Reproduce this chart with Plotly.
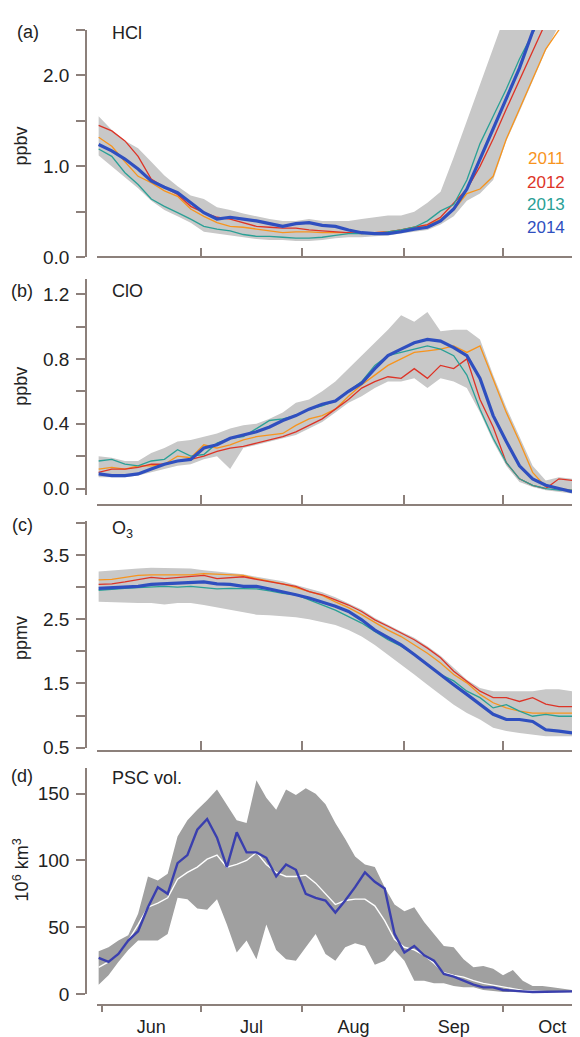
import pandas as pd
import plotly.graph_objects as go

# ---------------- data ----------------
# panels (a)-(c): every 4 days from 31 May
dates_abc = pd.date_range("2014-05-31", periods=37, freq="4D")
# panel (d): every 3 days from 31 May
dates_d = pd.date_range("2014-05-31", periods=49, freq="3D")

years = ["2011", "2012", "2013", "2014"]

# (a) HCl, ppbv
hcl_2011 = [1.32, 1.22, 1.05, 0.89, 0.82, 0.73, 0.67, 0.53, 0.45, 0.38, 0.34, 0.33, 0.31, 0.29, 0.27,
            0.28, 0.28, 0.27, 0.27, 0.27, 0.27, 0.27, 0.28, 0.30, 0.33, 0.35, 0.42, 0.52, 0.70, 0.75,
            0.89, 1.30, 1.63, 1.96, 2.29, 2.50, 2.80]
hcl_2012 = [1.45, 1.39, 1.28, 1.11, 0.86, 0.77, 0.69, 0.56, 0.49, 0.44, 0.42, 0.38, 0.34, 0.33, 0.32,
            0.32, 0.30, 0.29, 0.28, 0.27, 0.26, 0.27, 0.28, 0.30, 0.33, 0.36, 0.44, 0.60, 0.75, 1.00,
            1.30, 1.63, 1.96, 2.29, 2.60, 2.90, 3.20]
hcl_2013 = [1.19, 1.11, 0.93, 0.80, 0.64, 0.56, 0.49, 0.42, 0.34, 0.31, 0.29, 0.25, 0.23, 0.23, 0.22,
            0.21, 0.21, 0.22, 0.24, 0.26, 0.26, 0.26, 0.28, 0.30, 0.33, 0.40, 0.51, 0.58, 0.85, 1.25,
            1.55, 1.85, 2.18, 2.45, 2.75, 3.00, 3.30]
hcl_2014 = [1.24, 1.17, 1.08, 0.97, 0.84, 0.77, 0.71, 0.60, 0.49, 0.42, 0.44, 0.42, 0.40, 0.37, 0.34,
            0.37, 0.38, 0.35, 0.34, 0.30, 0.27, 0.26, 0.26, 0.28, 0.31, 0.33, 0.40, 0.53, 0.75, 1.08,
            1.41, 1.74, 2.08, 2.48, 2.85, 3.20, 3.50]
hcl_max = [1.55, 1.40, 1.28, 1.20, 1.05, 0.90, 0.78, 0.68, 0.64, 0.55, 0.52, 0.48, 0.45, 0.42, 0.40,
           0.40, 0.42, 0.40, 0.40, 0.40, 0.42, 0.44, 0.46, 0.46, 0.50, 0.60, 0.72, 1.10, 1.50, 1.92,
           2.32, 2.70, 3.00, 3.30, 3.60, 3.90, 4.20]
hcl_min = [1.12, 1.00, 0.88, 0.76, 0.62, 0.52, 0.45, 0.38, 0.28, 0.26, 0.24, 0.22, 0.20, 0.19, 0.19,
           0.18, 0.18, 0.19, 0.21, 0.22, 0.22, 0.23, 0.24, 0.26, 0.28, 0.30, 0.36, 0.45, 0.62, 0.70,
           0.85, 1.28, 1.60, 1.94, 2.27, 2.55, 2.85]

# (b) ClO, ppbv
clo_2011 = [0.12, 0.13, 0.12, 0.14, 0.14, 0.15, 0.20, 0.19, 0.27, 0.25, 0.27, 0.30, 0.32, 0.33, 0.34,
            0.39, 0.43, 0.45, 0.49, 0.57, 0.64, 0.70, 0.76, 0.80, 0.84, 0.85, 0.86, 0.88, 0.84, 0.88,
            0.68, 0.47, 0.29, 0.10, 0.01, 0.00, -0.01]
clo_2012 = [0.10, 0.12, 0.12, 0.13, 0.15, 0.15, 0.17, 0.18, 0.20, 0.23, 0.25, 0.26, 0.28, 0.30, 0.32,
            0.35, 0.39, 0.43, 0.49, 0.55, 0.62, 0.66, 0.69, 0.68, 0.74, 0.68, 0.76, 0.74, 0.80, 0.55,
            0.38, 0.16, 0.06, 0.02, 0.00, 0.06, 0.05]
clo_2013 = [0.17, 0.18, 0.15, 0.14, 0.17, 0.18, 0.24, 0.20, 0.21, 0.28, 0.31, 0.32, 0.37, 0.42, 0.43,
            0.45, 0.49, 0.51, 0.54, 0.60, 0.66, 0.76, 0.82, 0.84, 0.86, 0.88, 0.86, 0.82, 0.70, 0.49,
            0.31, 0.16, 0.06, 0.02, 0.00, -0.01, -0.01]
clo_2014 = [0.09, 0.08, 0.08, 0.09, 0.12, 0.15, 0.17, 0.18, 0.25, 0.27, 0.31, 0.33, 0.35, 0.38, 0.42,
            0.45, 0.49, 0.52, 0.54, 0.60, 0.65, 0.74, 0.82, 0.86, 0.90, 0.92, 0.91, 0.87, 0.82, 0.68,
            0.45, 0.29, 0.14, 0.06, 0.02, 0.00, -0.02]
clo_max = [0.20, 0.19, 0.17, 0.17, 0.22, 0.25, 0.29, 0.30, 0.32, 0.34, 0.37, 0.39, 0.40, 0.43, 0.47,
           0.53, 0.55, 0.60, 0.66, 0.74, 0.82, 0.90, 0.98, 1.07, 1.03, 1.09, 0.97, 0.98, 0.98, 0.92,
           0.70, 0.50, 0.32, 0.14, 0.05, 0.07, 0.06]
clo_min = [0.07, 0.07, 0.07, 0.08, 0.10, 0.12, 0.14, 0.15, 0.18, 0.20, 0.12, 0.25, 0.27, 0.29, 0.31,
           0.33, 0.37, 0.41, 0.47, 0.53, 0.57, 0.62, 0.66, 0.66, 0.68, 0.62, 0.68, 0.66, 0.62, 0.47,
           0.29, 0.14, 0.04, 0.01, -0.01, -0.02, -0.03]

# (c) O3, ppmv
o3_2011 = [3.11, 3.12, 3.15, 3.18, 3.19, 3.19, 3.20, 3.19, 3.21, 3.20, 3.18, 3.18, 3.13, 3.09, 3.05,
           2.99, 2.93, 2.87, 2.77, 2.68, 2.57, 2.45, 2.33, 2.23, 2.10, 1.97, 1.82, 1.64, 1.51, 1.33,
           1.20, 1.12, 1.07, 1.04, 1.04, 1.04, 1.04]
o3_2012 = [3.04, 3.05, 3.08, 3.11, 3.15, 3.13, 3.15, 3.16, 3.18, 3.13, 3.15, 3.16, 3.12, 3.08, 3.04,
           3.01, 2.93, 2.88, 2.80, 2.72, 2.62, 2.49, 2.39, 2.28, 2.18, 2.05, 1.90, 1.69, 1.53, 1.38,
           1.28, 1.28, 1.22, 1.28, 1.18, 1.14, 1.14]
o3_2013 = [2.95, 2.97, 2.98, 2.99, 3.00, 3.01, 3.00, 3.01, 2.99, 2.97, 2.98, 2.98, 2.97, 2.94, 2.90,
           2.88, 2.80, 2.73, 2.64, 2.54, 2.44, 2.31, 2.18, 2.08, 1.95, 1.79, 1.64, 1.54, 1.38, 1.28,
           1.12, 1.17, 1.07, 0.99, 1.02, 0.99, 0.99]
o3_2014 = [2.98, 2.99, 3.00, 3.01, 3.04, 3.05, 3.05, 3.07, 3.08, 3.05, 3.04, 3.01, 3.01, 2.97, 2.93,
           2.88, 2.83, 2.77, 2.70, 2.62, 2.49, 2.33, 2.21, 2.10, 1.95, 1.79, 1.64, 1.48, 1.33, 1.17,
           1.02, 0.94, 0.94, 0.91, 0.78, 0.76, 0.73]
o3_max = [3.24, 3.26, 3.28, 3.29, 3.30, 3.30, 3.29, 3.29, 3.26, 3.24, 3.21, 3.20, 3.16, 3.12, 3.09,
          3.03, 2.98, 2.92, 2.84, 2.75, 2.65, 2.52, 2.41, 2.31, 2.21, 2.08, 1.93, 1.74, 1.56, 1.43,
          1.38, 1.38, 1.38, 1.38, 1.41, 1.41, 1.38]
o3_min = [2.77, 2.76, 2.76, 2.75, 2.75, 2.73, 2.75, 2.75, 2.72, 2.68, 2.64, 2.61, 2.57, 2.56, 2.55,
          2.53, 2.50, 2.45, 2.41, 2.33, 2.23, 2.10, 1.95, 1.79, 1.64, 1.48, 1.33, 1.17, 1.04, 0.94,
          0.81, 0.76, 0.73, 0.71, 0.68, 0.68, 0.68]

# (d) PSC volume, 10^6 km^3
psc_2014 = [27, 24, 30, 40, 47, 65, 80, 75, 98, 104, 123, 131, 117, 95, 121, 106, 106, 102, 88, 97,
            93, 75, 72, 70, 61, 70, 80, 91, 84, 79, 45, 31, 36, 29, 25, 15, 13, 10, 7, 5,
            5, 3, 2.7, 2, 1.5, 1.5, 1.5, 1.5, 2]
psc_mean = [20, 24, 30, 40, 52, 65, 68, 72, 86, 91, 95, 101, 104, 95, 97, 100, 106, 97, 91, 88,
            88, 89, 83, 75, 67, 70, 71, 71, 66, 55, 41, 35, 33, 29, 23, 16, 14, 12.7, 10, 8,
            6.5, 5, 4, 2.7, 2.2, 2, 1.5, 1.5, 1.5]
psc_max = [32, 35, 40, 44, 60, 88, 85, 90, 118, 130, 138, 145, 153, 142, 130, 128, 160, 147, 138, 153,
           149, 154, 150, 142, 128, 116, 103, 97, 95, 80, 67, 62, 65, 54, 45, 36, 35, 26, 20, 21,
           19, 14, 18, 10, 6, 6, 5, 4, 3]
psc_min = [7, 14, 24, 33, 40, 40, 40, 45, 72, 71, 64, 63, 71, 52, 31, 40, 26, 52, 33, 26,
           25, 35, 45, 30, 25, 35, 38, 36, 22, 25, 33, 25, 10, 10, 8, 8, 6, 5, 5, 3,
           2, 1.5, 1.5, 1, 1, 1, 1, 1, 1]

# y-axis labelled ticks (minor ticks in between)
hcl_ticks = [0, 1.0, 2.0]
hcl_ticktext = ["0.0", "1.0", "2.0"]
clo_ticks = [0, 0.4, 0.8, 1.2]
clo_ticktext = ["0.0", "0.4", "0.8", "1.2"]
o3_ticks = [0.5, 1.5, 2.5, 3.5]
o3_ticktext = ["0.5", "1.5", "2.5", "3.5"]
psc_ticks = [0, 50, 100, 150]
psc_ticktext = ["0", "50", "100", "150"]
month_starts = ["2014-07-01", "2014-08-01", "2014-09-01", "2014-10-01"]

# ---------------- style ----------------
OFF = 8                      # default page (body) margin of the html page
W, H = 580 - OFF, 1037 - OFF
ML, MR, MT, MB = 0, 3, 0, 29
PW, PH = W - ML - MR, H - MT - MB
FONT = "Liberation Sans, Arial, Helvetica, sans-serif"
AX = "#8c807b"
TXT = "#222222"
COL = {"2011": "#f7941d", "2012": "#dd3427", "2013": "#2aa096", "2014": "#2f4fbf"}
BAND = "#c8c8c8"
BAND_D = "#a0a0a0"
BLUE_D = "#3a3fae"


def px(x):
    """screen pixel x -> paper fraction"""
    return (x - OFF - ML) / PW


def py(y):
    """screen pixel y -> paper fraction"""
    return (MT + PH - (y - OFF)) / PH


XR = ["2014-05-30 12:00", "2014-10-23 12:00"]
XDOM = [px(97), 1.0]
YAX_POS = px(86)

fig = go.Figure()


def band(xs, lo, hi, ax, color):
    fig.add_trace(go.Scatter(x=xs, y=lo, mode="lines", line=dict(width=0, color=color),
                             showlegend=False, hoverinfo="skip", xaxis=ax[0], yaxis=ax[1]))
    fig.add_trace(go.Scatter(x=xs, y=hi, mode="lines", line=dict(width=0, color=color),
                             fill="tonexty", fillcolor=color, showlegend=False,
                             hoverinfo="skip", xaxis=ax[0], yaxis=ax[1]))


def line(xs, ys, ax, color, width, name):
    fig.add_trace(go.Scatter(x=xs, y=ys, mode="lines", line=dict(width=width, color=color),
                             name=name, showlegend=False, xaxis=ax[0], yaxis=ax[1]))


panels = [
    (("x", "y"), hcl_min, hcl_max, [hcl_2011, hcl_2012, hcl_2013, hcl_2014]),
    (("x2", "y2"), clo_min, clo_max, [clo_2011, clo_2012, clo_2013, clo_2014]),
    (("x3", "y3"), o3_min, o3_max, [o3_2011, o3_2012, o3_2013, o3_2014]),
]
for ax, lo, hi, series in panels:
    band(dates_abc, lo, hi, ax, BAND)
    for yr, s in zip(years, series):
        line(dates_abc, s, ax, COL[yr], 3.2 if yr == "2014" else 1.3, yr)

band(dates_d, psc_min, psc_max, ("x4", "y4"), BAND_D)
line(dates_d, psc_mean, ("x4", "y4"), "#ffffff", 1.4, "mean")
line(dates_d, psc_2014, ("x4", "y4"), BLUE_D, 2.4, "2014")


def yax(top_px, bot_px, rng, tv, tt, minor_step=None, minor_start=0):
    d = dict(domain=[py(bot_px), py(top_px)], range=rng, anchor="free", position=YAX_POS,
             showline=True, linecolor=AX, linewidth=1.5, ticks="outside", ticklen=9,
             tickwidth=1.5, tickcolor=AX, tickvals=tv, ticktext=tt, ticklabelstandoff=3,
             tickfont=dict(size=19, color=TXT, family=FONT), showgrid=False, zeroline=False)
    if minor_step:
        d["minor"] = dict(tickmode="linear", tick0=minor_start, dtick=minor_step,
                          ticks="outside", ticklen=9, tickwidth=1.5, tickcolor=AX,
                          showgrid=False)
    return d


def xax_inner(line_px):
    return dict(type="date", range=XR, domain=XDOM, anchor="free", position=py(line_px),
                showline=True, linecolor=AX, linewidth=1.5, ticks="inside", ticklen=9,
                tickwidth=1.5, tickcolor=AX, tickvals=month_starts, showticklabels=False,
                showgrid=False, zeroline=False)


layout = dict(
    width=W, height=H, margin=dict(l=ML, r=MR, t=MT, b=MB),
    paper_bgcolor="white", plot_bgcolor="rgba(0,0,0,0)",
    font=dict(family=FONT, color=TXT, size=18),
    showlegend=False,
    yaxis=yax(30, 258, [0, 2.5], hcl_ticks, hcl_ticktext, 0.5, 0),
    yaxis2=yax(280, 496, [-0.037, 1.292], clo_ticks, clo_ticktext, 0.2, 0),
    yaxis3=yax(523, 750, [0.5, 4.02], o3_ticks, o3_ticktext, 0.5, 0.5),
    yaxis4=yax(770, 997, [0, 169.4], psc_ticks, psc_ticktext),
    xaxis=xax_inner(258),
    xaxis2=xax_inner(506),
    xaxis3=xax_inner(753),
    xaxis4=dict(type="date", range=XR, domain=XDOM, anchor="free", position=0,
                showline=True, linecolor=AX, linewidth=1.5, ticks="outside", ticklen=6,
                tickwidth=1.5, tickcolor=AX, dtick="M1", tick0="2014-06-01",
                tickformat="%b", ticklabelmode="period",
                tickfont=dict(size=18, color=TXT, family=FONT),
                showgrid=False, zeroline=False),
)
fig.update_layout(**layout)


def ann(text, x, y, xanchor="center", color=TXT, size=18, angle=0):
    fig.add_annotation(text=text, x=px(x), y=py(y), xref="paper", yref="paper",
                       xanchor=xanchor, yanchor="middle", showarrow=False, textangle=angle,
                       font=dict(size=size, color=color, family=FONT))


ann("(a)", 28, 32)
ann("HCl", 110, 33, "left")
ann("(b)", 22, 292)
ann("ClO", 110, 292, "left")
ann("(c)", 22, 527)
ann("O<sub>3</sub>", 110, 531, "left")
ann("(d)", 22, 778)
ann("PSC vol.", 110, 780, "left")
ann("ppbv", 21, 147, angle=-90)
ann("ppbv", 21, 388, angle=-90)
ann("ppmv", 21, 640, angle=-90)
ann("10<sup>6</sup> km<sup>3</sup>", 21, 873, angle=-90)
for yr, ypx in zip(years, [159, 183, 205, 228]):
    ann(yr, 567, ypx, "right", COL[yr], 17)

fig.write_html("out.html")
